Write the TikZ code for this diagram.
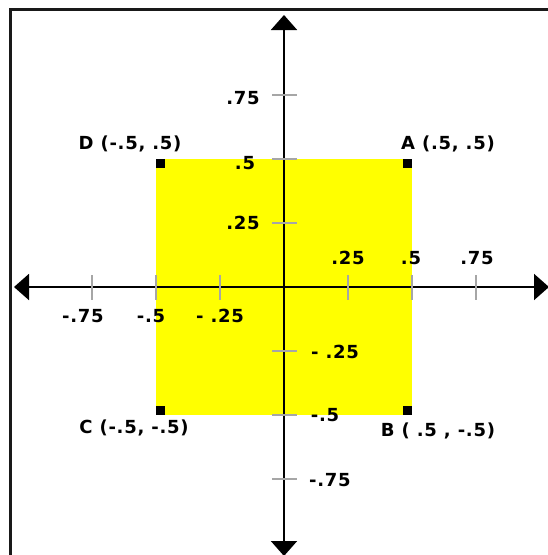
\documentclass[tikz,border=0pt]{standalone}
\usepackage{fontspec}
\newfontfamily\lblfont[LetterSpace=4]{DejaVu Sans Bold}
\usetikzlibrary{arrows.meta}
\definecolor{yel}{RGB}{255,255,0}
\tikzset{
  axisline/.style={line width=2pt, black, {Triangle[width=26pt,length=15pt]}-{Triangle[width=26pt,length=15pt]}},
  tickmark/.style={line width=1.5pt, gray!70},
  lbl/.style={font=\lblfont\fontsize{18}{20}\selectfont, inner sep=0pt, text=black},
  corner/.style={fill=black, minimum size=9pt, inner sep=0pt, draw=none},
  sq/.style={fill=yel, draw=none}
}
\begin{document}
\begin{tikzpicture}[x=1pt,y=-1pt]
\useasboundingbox (0,0) rectangle (548,555);
\clip (0,0) rectangle (548,555);
\fill[white] (0,0) rectangle (548,555);
% frame
\draw[line width=3pt, black!90] (10,9) rectangle (600,600);
% yellow square
\fill[sq] (156,159) rectangle (412,415);
% axes
\coordinate (xl) at (14,287);
\coordinate (xr) at (549,287);
\coordinate (yt) at (284,15);
\coordinate (yb) at (284,556);
\draw[axisline] (xl) -- (xr);
\draw[axisline] (yt) -- (yb);
% ticks
\foreach \v in {-.75,-.5,-.25,.25,.5,.75}{
  \draw[tickmark] ({284+256*\v},275) -- ({284+256*\v},300);
  \draw[tickmark] (272,{287-256*\v}) -- (297,{287-256*\v});
}
% x labels
\node[lbl] (xm75) at (83,316) {-.75};
\node[lbl] (xm5) at (151,316) {-.5};
\node[lbl] (xm25) at (220,316) {- .25};
\node[lbl] (xp25) at (348,258) {.25};
\node[lbl] (xp5) at (411,258) {.5};
\node[lbl] (xp75) at (477,258) {.75};
% y labels
\node[lbl] (yp75) at (243,98) {.75};
\node[lbl] (yp5) at (245,163) {.5};
\node[lbl] (yp25) at (243,223) {.25};
\node[lbl] (ym25) at (335,352) {- .25};
\node[lbl] (ym5) at (325,415) {-.5};
\node[lbl] (ym75) at (330,480) {-.75};
% corners
\node[corner] (A) at (407.5,163.5) {};
\node[corner] (B) at (407.5,410.5) {};
\node[corner] (C) at (160.5,410.5) {};
\node[corner] (D) at (160.5,163.5) {};
\node[lbl] (Al) at (448,144) {A (.5, .5)};
\node[lbl] (Dl) at (130,144) {D (-.5, .5)};
\node[lbl] (Cl) at (134,428) {C (-.5, -.5)};
\node[lbl] (Bl) at (438,431) {B ( .5 , -.5)};
\end{tikzpicture}
\end{document}
